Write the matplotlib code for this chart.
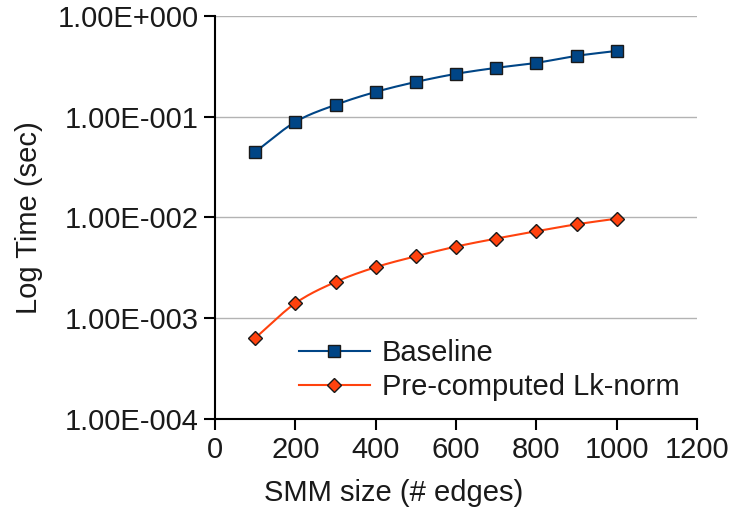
import numpy as np
import matplotlib
matplotlib.use("Agg")
import matplotlib.pyplot as plt
from matplotlib.ticker import FixedLocator, FuncFormatter, NullLocator

sizes = [100, 200, 300, 400, 500, 600, 700, 800, 900, 1000]
baseline = [0.0447, 0.0887, 0.131, 0.176, 0.221, 0.266, 0.305, 0.342, 0.401, 0.449]
precomputed = [6.37e-4, 1.41e-3, 2.29e-3, 3.21e-3, 4.12e-3, 5.14e-3, 6.17e-3, 7.30e-3, 8.55e-3, 9.73e-3]
series_names = ["Baseline", "Pre-computed Lk-norm"]
x_ticks = [0, 200, 400, 600, 800, 1000, 1200]
y_ticks = [1e-4, 1e-3, 1e-2, 1e-1, 1e0]
y_tick_labels = ["1.00E-004", "1.00E-003", "1.00E-002", "1.00E-001", "1.00E+000"]

plt.rcParams['font.family'] = ['Liberation Sans', 'DejaVu Sans']
FS = 21
TXT = '#1a1a1a'

def smooth(xs, ys, n=20):
    # Catmull-Rom curve through the points (in log-y space) for drawing only
    xs = np.asarray(xs, float)
    ly = np.log10(np.asarray(ys, float))
    P = np.column_stack([xs, ly])
    P = np.vstack([2 * P[0] - P[1], P, 2 * P[-1] - P[-2]])
    out = []
    for i in range(1, len(P) - 2):
        p0, p1, p2, p3 = P[i - 1], P[i], P[i + 1], P[i + 2]
        t = np.linspace(0, 1, n, endpoint=False)[:, None]
        c = 0.5 * ((2 * p1) + (-p0 + p2) * t + (2 * p0 - 5 * p1 + 4 * p2 - p3) * t ** 2
                   + (-p0 + 3 * p1 - 3 * p2 + p3) * t ** 3)
        out.append(c)
    out.append(P[-2][None, :])
    c = np.vstack(out)
    return c[:, 0], 10 ** c[:, 1]

fig = plt.figure(figsize=(7.34, 5.12), dpi=100)
ax = fig.add_axes([0.293, 0.1816, 0.6566, 0.7874])

blue = "#004586"
orange = "#ff420e"

sx, sy = smooth(sizes, baseline)
ax.plot(sx, sy, color=blue, lw=1.5, zorder=3)
ax.plot(sizes, baseline, ls='none', marker='s', ms=8, mfc=blue, mec='#1a1a1a', mew=1, zorder=4)
sx, sy = smooth(sizes, precomputed)
ax.plot(sx, sy, color=orange, lw=1.5, zorder=3)
ax.plot(sizes, precomputed, ls='none', marker='D', ms=7.5, mfc=orange, mec='#1a1a1a', mew=1, zorder=4)

# legend handles
h1, = ax.plot([], [], color=blue, lw=1.5, marker='s', ms=8, mfc=blue, mec='#1a1a1a', mew=1)
h2, = ax.plot([], [], color=orange, lw=1.5, marker='D', ms=7.5, mfc=orange, mec='#1a1a1a', mew=1)
leg = ax.legend([h1, h2], series_names, loc='lower left', bbox_to_anchor=(0.149, 0.016),
                frameon=False, fontsize=FS, handlelength=2.45, handletextpad=0.4,
                labelspacing=0.19, borderaxespad=0, labelcolor=TXT)

ax.set_yscale('log')
ax.set_ylim(1e-4, 1e0)
ax.set_xlim(0, 1200)
ax.xaxis.set_major_locator(FixedLocator(x_ticks))
ax.yaxis.set_major_locator(FixedLocator(y_ticks))
ax.yaxis.set_minor_locator(NullLocator())
ax.yaxis.set_major_formatter(FuncFormatter(lambda v, p: y_tick_labels[y_ticks.index(min(y_ticks, key=lambda t: abs(np.log10(t) - np.log10(v))))]))
ax.set_xticklabels([str(t) for t in x_ticks])

ax.grid(axis='y', color='#b3b3b3', lw=1)
ax.set_axisbelow(True)
for s in ['top', 'right']:
    ax.spines[s].set_visible(False)
for s in ['left', 'bottom']:
    ax.spines[s].set_linewidth(1.5)
    ax.spines[s].set_color('black')
ax.tick_params(axis='both', labelsize=FS, labelcolor=TXT, color='black', width=1.5, length=8)
ax.tick_params(axis='x', pad=4)
ax.tick_params(axis='y', pad=4)
ax.set_ylabel("Log Time (sec)", fontsize=FS, color=TXT, labelpad=10)
fig.text(394 / 734, 1 - 493 / 512, "SMM size (# edges)", fontsize=FS, color=TXT,
         ha='center', va='center')

fig.savefig("out.png", dpi=100)
